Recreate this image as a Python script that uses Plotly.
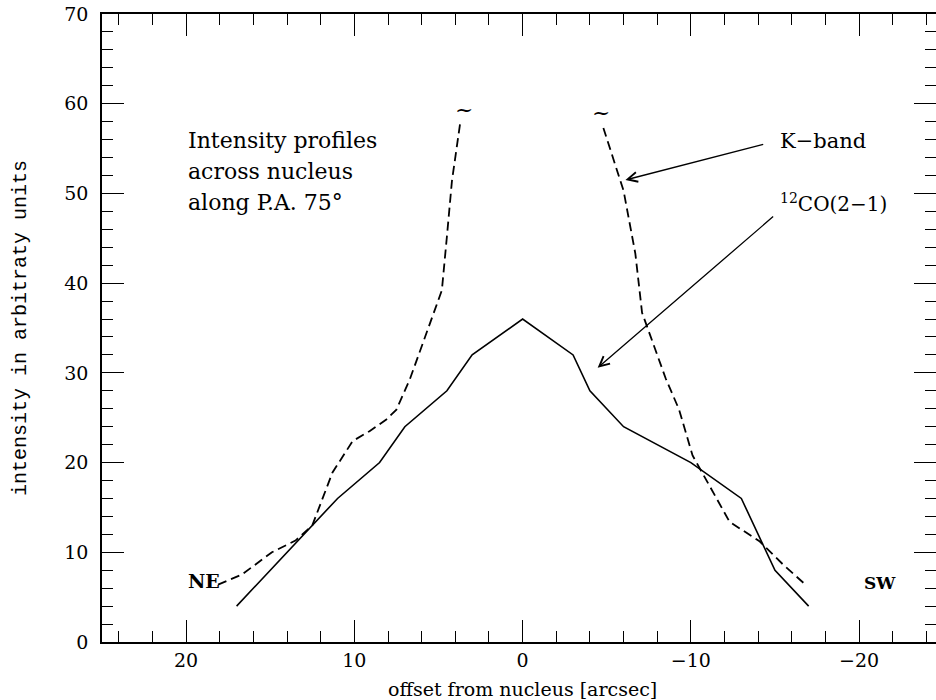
import plotly.graph_objects as go

# CO(2-1) profile (solid)
co_x = [17, 11, 8.5, 7, 4.5, 3, 0, -3, -4, -6, -10, -13, -15, -17]
co_y = [4, 16, 20, 24, 28, 32, 36, 32, 28, 24, 20, 16, 8, 4]

# K-band profile, NE branch (dashed)
kne_x = [18.1, 16.7, 14.9, 13.5, 12.5, 11.3, 10.1, 9.1, 8.1, 7.5, 6.7, 4.8, 4.5, 4.2, 3.7]
kne_y = [6.4, 7.5, 10.0, 11.3, 13.0, 18.9, 22.4, 23.5, 24.8, 25.9, 29.3, 39.2, 45.2, 51.4, 58.0]

# K-band profile, SW branch (dashed)
ksw_x = [-4.8, -5.7, -6.0, -6.7, -7.1, -8.5, -9.3, -10.1, -11.1, -12.3, -14.1, -15.5, -16.9]
ksw_y = [57.3, 52.0, 50.3, 43.3, 36.7, 29.4, 25.9, 20.8, 17.4, 13.4, 11.2, 8.6, 6.25]

x_ticks = [20, 10, 0, -10, -20]
y_ticks = [0, 10, 20, 30, 40, 50, 60, 70]

SERIF = "DejaVu Serif"

fig = go.Figure()
fig.add_trace(go.Scatter(x=co_x, y=co_y, mode="lines",
                         line=dict(color="black", width=1.6), showlegend=False))
fig.add_trace(go.Scatter(x=kne_x, y=kne_y, mode="lines",
                         line=dict(color="black", width=1.8, dash="9px,5px"), showlegend=False))
fig.add_trace(go.Scatter(x=ksw_x, y=ksw_y, mode="lines",
                         line=dict(color="black", width=1.8, dash="9px,5px"), showlegend=False))

ann = []
for txt, yy in [("Intensity profiles", 55.9), ("across nucleus", 52.5), ("along P.A. 75°", 49.0)]:
    ann.append(dict(x=20.0, y=yy, text=txt, showarrow=False, xanchor="left", yanchor="middle",
                    font=dict(family=SERIF, size=22, color="black")))
ann.append(dict(x=-15.16, y=55.8, text="K−band", showarrow=False, xanchor="left", yanchor="middle",
                font=dict(family=SERIF, size=21, color="black")))
ann.append(dict(x=-15.16, y=48.9, text="<sup>12</sup>CO(2−1)", showarrow=False, xanchor="left",
                yanchor="middle", font=dict(family=SERIF, size=20, color="black")))
ann.append(dict(x=20.0, y=6.8, text="<b>NE</b>", showarrow=False, xanchor="left", yanchor="middle",
                font=dict(family=SERIF, size=19, color="black")))
ann.append(dict(x=-20.2, y=6.6, text="<b>SW</b>", showarrow=False, xanchor="left", yanchor="middle",
                font=dict(family=SERIF, size=17, color="black")))
ann.append(dict(x=3.47, y=59.4, text="~", showarrow=False, xanchor="center", yanchor="middle",
                font=dict(family=SERIF, size=22, color="black")))
ann.append(dict(x=-4.67, y=59.0, text="~", showarrow=False, xanchor="center", yanchor="middle",
                font=dict(family=SERIF, size=22, color="black")))
# axis titles as annotations for exact placement
ann.append(dict(xref="paper", yref="paper", x=0, y=0.5, xshift=-82, text="intensity in arbitraty units",
                textangle=-90, showarrow=False, xanchor="center", yanchor="middle",
                font=dict(family="Liberation Mono", size=20, color="black")))
ann.append(dict(xref="x", yref="paper", x=0, y=0, yshift=-47, text="offset from nucleus [arcsec]",
                showarrow=False, xanchor="center", yanchor="middle",
                font=dict(family=SERIF, size=19, color="black")))
# arrows
ann.append(dict(x=-6.11, y=51.5, ax=-14.39, ay=55.5, axref="x", ayref="y", xref="x", yref="y",
                text="", showarrow=True, arrowhead=5, arrowsize=1.5, arrowwidth=1.3, arrowcolor="black"))
ann.append(dict(x=-4.46, y=30.56, ax=-14.98, ay=47.56, axref="x", ayref="y", xref="x", yref="y",
                text="", showarrow=True, arrowhead=5, arrowsize=1.5, arrowwidth=1.3, arrowcolor="black"))

fig.update_layout(
    width=936, height=700,
    margin=dict(l=102, r=0, t=14, b=58),
    paper_bgcolor="white", plot_bgcolor="white",
    annotations=ann,
    font=dict(family=SERIF, color="black"),
)
fig.update_xaxes(range=[25, -24.57], tickvals=x_ticks, ticktext=[str(v).replace("-", "−") for v in x_ticks],
                 ticks="inside", ticklen=22, tickwidth=1.3, tickcolor="black",
                 minor=dict(dtick=2, ticks="inside", ticklen=11, tickwidth=1.2, tickcolor="black"),
                 showgrid=False, zeroline=False, showline=True, linecolor="black", linewidth=1.5,
                 mirror="ticks", tickfont=dict(family=SERIF, size=19, color="black"),
                 automargin=False)
fig.update_yaxes(range=[0, 70], tickvals=y_ticks,
                 ticks="inside", ticklen=22, tickwidth=1.3, tickcolor="black",
                 minor=dict(dtick=2, ticks="inside", ticklen=11, tickwidth=1.2, tickcolor="black"),
                 showgrid=False, zeroline=False, showline=True, linecolor="black", linewidth=1.5,
                 mirror="ticks", tickfont=dict(family=SERIF, size=19, color="black"),
                 ticklabelstandoff=8, automargin=False)

fig.write_html("out.html", config={"displayModeBar": False},
               post_script="document.body.style.margin='0px';")
